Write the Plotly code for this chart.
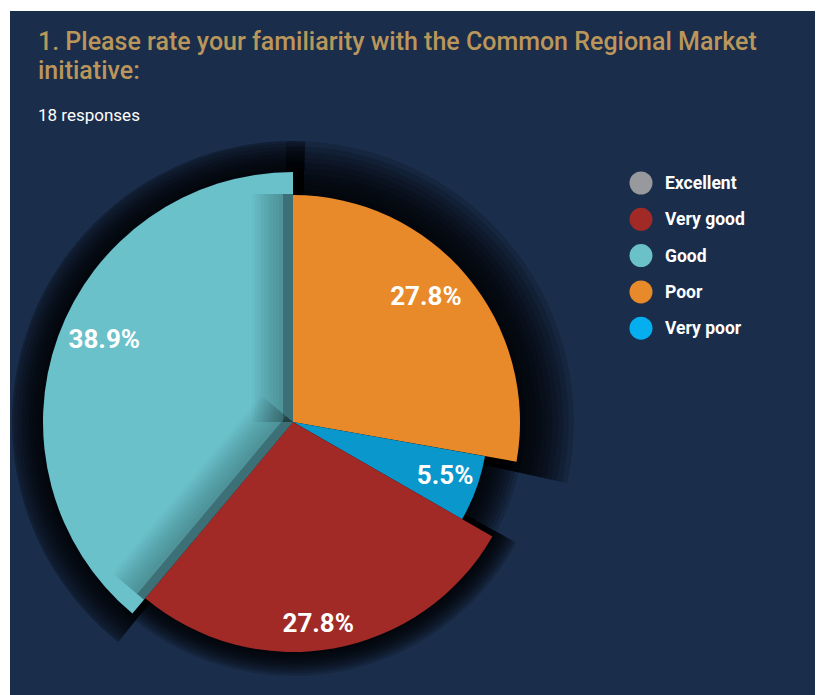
import math
import plotly.graph_objects as go

# survey answers (legend order)
categories = ["Excellent", "Very good", "Good", "Poor", "Very poor"]
percent = [0.0, 27.8, 38.9, 27.8, 5.5]
legend_colors = ["#98999d", "#a12a26", "#6ac1ca", "#e8892a", "#05aeef"]
slice_colors = ["#98999d", "#a12a26", "#6ac1ca", "#e8892a", "#0a97cc"]

# slices run clockwise from 12 o'clock in this order
draw_order = ["Poor", "Very poor", "Very good", "Good"]

# style: outer radius (px) of each slice and how far its shadow reaches
radius = {"Excellent": 0, "Very good": 230, "Good": 250, "Poor": 227, "Very poor": 195}
shadow_extra = {"Excellent": 0, "Very good": 24, "Good": 36, "Poor": 54, "Very poor": 36}

BG = "#1a2d4b"
FONT = "Roboto, Arial, sans-serif"
W, H = 823, 695
OFF = 8  # the page body puts the figure 8px in from the corner
CX, CY = 293 - OFF, 422 - OFF
RMAX = H - CY

def px_x(x):
    return (x - OFF) / W

def px_y(y):
    return 1 - (y - OFF) / H

# angular layout computed from percentages
pct = dict(zip(categories, percent))
col = dict(zip(categories, slice_colors))
starts, widths = {}, {}
acc = 0.0
for c in draw_order:
    starts[c] = acc
    widths[c] = pct[c] * 3.6
    acc += widths[c]

fig = go.Figure()

def dark(r, theta, width, op):
    fig.add_trace(go.Barpolar(
        r=[r], theta=[theta], width=[width],
        marker=dict(color="black", line=dict(width=0)),
        opacity=op, showlegend=False, hoverinfo="skip",
    ))

def edge_strip(theta0, length, d, side, op):
    # band of constant width d along a slice edge, on one side of it
    a = math.degrees(math.atan2(d, length))
    fig.add_trace(go.Scatterpolar(
        r=[0, length, math.hypot(length, d), d, 0],
        theta=[theta0, theta0, theta0 + side * a, theta0 + side * 90, theta0],
        mode="lines", fill="toself", fillcolor=f"rgba(0,0,0,{op})",
        line=dict(width=0), showlegend=False, hoverinfo="skip",
    ))

# shadows: layered translucent black sectors
NL = 10
for c in draw_order:
    for k in range(NL):
        dark(radius[c] + shadow_extra[c] * (k + 1) / NL,
             starts[c] + widths[c] / 2 + 0.5, widths[c] + 4, 0.15)

# slices
for c in draw_order:
    fig.add_trace(go.Barpolar(
        r=[radius[c]],
        theta=[starts[c] + widths[c] / 2],
        width=[widths[c]],
        marker=dict(color=col[c], line=dict(width=0)),
        name=c, showlegend=False,
        hovertemplate=f"{c}: {pct[c]}%<extra></extra>",
    ))

# shade cast onto the Good slice by its neighbours (soft fade + darker band)
for d in range(14, 42, 3):
    edge_strip(360, radius["Poor"] + 1, d, -1, 0.025)
    edge_strip(starts["Good"], radius["Very good"] + 2, d, 1, 0.025)
edge_strip(360, radius["Poor"] + 1, 10, -1, 0.24)
edge_strip(starts["Good"], radius["Very good"] + 2, 9, 1, 0.24)

# percentage labels
label_frac = {"Poor": 0.8, "Very poor": 0.83, "Very good": 0.89, "Good": 0.82}
label_nudge = {"Poor": -3, "Very poor": 0, "Very good": 3, "Good": 3}
fig.add_trace(go.Scatterpolar(
    r=[radius[c] * label_frac[c] for c in draw_order],
    theta=[starts[c] + widths[c] / 2 + label_nudge[c] for c in draw_order],
    text=[f"{pct[c]}%" for c in draw_order],
    mode="text",
    textfont=dict(family=FONT, size=26, color="white", weight="bold"),
    showlegend=False, hoverinfo="skip",
))

fig.update_layout(
    width=W, height=H,
    margin=dict(l=0, r=0, t=0, b=0),
    paper_bgcolor="white",
    plot_bgcolor=BG,
    polar=dict(
        domain=dict(x=[(CX - RMAX) / W, (CX + RMAX) / W],
                    y=[(H - CY - RMAX) / H, (H - CY + RMAX) / H]),
        bgcolor="rgba(0,0,0,0)",
        barmode="overlay",
        radialaxis=dict(range=[0, RMAX], visible=False),
        angularaxis=dict(rotation=90, direction="clockwise", visible=False),
    ),
    shapes=[dict(type="rect", xref="paper", yref="paper",
                 x0=px_x(10), x1=1, y0=0, y1=px_y(11),
                 fillcolor=BG, line=dict(width=0), layer="below")],
)

gold = "#bb965a"
ann = [
    dict(text="1. Please rate your familiarity with the Common Regional Market",
         x=px_x(36), y=px_y(41.7), xref="paper", yref="paper", xanchor="left", yanchor="middle",
         showarrow=False, font=dict(family=FONT, size=25, color=gold, weight=500)),
    dict(text="initiative:",
         x=px_x(36), y=px_y(70.3), xref="paper", yref="paper", xanchor="left", yanchor="middle",
         showarrow=False, font=dict(family=FONT, size=25, color=gold, weight=500)),
    dict(text="18 responses", x=px_x(36), y=px_y(115.4), xref="paper", yref="paper",
         xanchor="left", yanchor="middle", showarrow=False,
         font=dict(family=FONT, size=17, color="white")),
]

# custom legend with round swatches
for i, (c, lc) in enumerate(zip(categories, legend_colors)):
    yc = 183 + i * 36.3
    fig.add_shape(type="circle", xref="paper", yref="paper",
                  x0=px_x(641 - 11.5), x1=px_x(641 + 11.5),
                  y0=px_y(yc + 11.5), y1=px_y(yc - 11.5),
                  fillcolor=lc, line=dict(width=0))
    ann.append(dict(text=c, x=px_x(663), y=px_y(yc), xref="paper", yref="paper",
                    xanchor="left", yanchor="middle", showarrow=False,
                    font=dict(family=FONT, size=17.5, color="white", weight="bold")))

fig.update_layout(annotations=ann)
fig.write_html("out.html")
